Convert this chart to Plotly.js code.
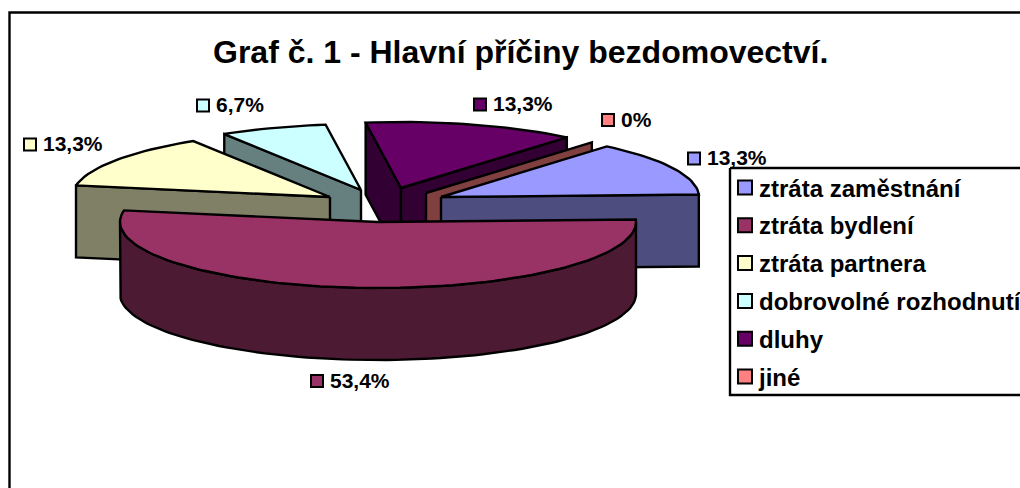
<!DOCTYPE html>
<html><head><meta charset="utf-8">
<script src="https://cdn.plot.ly/plotly-3.0.1.min.js"></script>
<style>html,body{margin:0;padding:0;background:#fff;overflow:hidden}#chart{width:1020px;height:488px}</style>
</head><body><div id="chart"></div>
<script>
// Data
const categories = ['ztráta zaměstnání','ztráta bydlení','ztráta partnera','dobrovolné rozhodnutí','dluhy','jiné'];
const shares = [13.3,53.4,13.3,6.7,13.3,0];
const valueLabels = ['13,3%','53,4%','13,3%','6,7%','13,3%','0%'];
const titleText = 'Graf č. 1 - Hlavní příčiny bezdomovectví.';

// Styles
const topColors = ['#9999ff','#993366','#ffffcc','#ccffff','#660066','#ff8080'];
const sideColors = ['#4d4d80','#4d1a33','#808066','#668080','#330033','#804040'];
const FONT = '"Liberation Sans", Arial, sans-serif';
const INK = '#000';
const LW = 2.4;

// Projection of the tilted pie, in pixel-like axis units
const startDeg = 40, rx = 258, ry = 66, depth = 72;
const explodeAt = [[441,197],[378,222],[330,197],[361,190],[401,188],[426,193]];
const labelAt = [[694,158.5],[317,381],[30,144.5],[203,105.5],[480,104.5],[608,120]];
const legendBox = {x0:730,x1:1040,y0:168,y1:395,first:187.5,step:37.8,sw:745,tx:759};

const rad = d => d*Math.PI/180;
const rimPoint = (c,deg,down=0) => [c[0]+rx*Math.sin(rad(deg)), c[1]-ry*Math.cos(rad(deg))+down];
const arc = (c,a,b,down=0) => {
  const n = Math.max(2,Math.ceil(Math.abs(b-a)/2)), out=[];
  for(let i=0;i<=n;i++) out.push(rimPoint(c,a+(b-a)*i/n,down));
  return out;
};
let acc = startDeg;
const spans = shares.map(v => { const s=[acc,acc+v*3.6]; acc=s[1]; return s; });

const polys = [];
const poly = (pts,color,name) => polys.push({
  type:'scatter',mode:'lines',x:[...pts.map(p=>p[0]),pts[0][0]],y:[...pts.map(p=>p[1]),pts[0][1]],
  fill:'toself',fillcolor:color,line:{color:INK,width:LW,shape:'linear'},name,hoverinfo:'name',showlegend:false
});
// A radial cut face: from centre to rim at angle deg, extruded down
const cutFace = (i,deg) => {
  const c=explodeAt[i], r=rimPoint(c,deg);
  poly([c,r,[r[0],r[1]+depth],[c[0],c[1]+depth]],sideColors[i],categories[i]);
};
const topFace = i => poly([explodeAt[i],...arc(explodeAt[i],spans[i][0],spans[i][1])],topColors[i],categories[i]);

// back to front
cutFace(3,spans[3][0]); topFace(3);               // dobrovolné
cutFace(4,spans[4][0]); cutFace(4,spans[4][1]); topFace(4); // dluhy
cutFace(5,spans[5][0]);                            // jiné
cutFace(0,spans[0][1]); topFace(0);               // zaměstnání
cutFace(2,spans[2][0]); topFace(2);               // partnera
{ // bydlení: the rim wall runs between the left and right silhouette points of the ellipse
  const c=explodeAt[1], a=arc(c,90,270), b=arc(c,90,270,depth).reverse();
  poly([...a,...b],sideColors[1],categories[1]);
  topFace(1);
}

// Data labels with key swatches
const labelKeys = {
  type:'scatter',mode:'markers',x:labelAt.map(p=>p[0]),y:labelAt.map(p=>p[1]),
  marker:{symbol:'square',size:12,color:topColors,line:{color:INK,width:2}},
  hoverinfo:'skip',showlegend:false
};
const labelTexts = {
  type:'scatter',mode:'text',x:labelAt.map(p=>p[0]+13),y:labelAt.map(p=>p[1]+1.5),
  text:valueLabels,textposition:'middle right',
  textfont:{family:FONT,size:21,color:INK,weight:700},
  hoverinfo:'skip',showlegend:false
};
// Legend frame (after the labels, so that it overlaps the nearest one), keys and texts
const b = legendBox;
const legendFrame = {
  type:'scatter',mode:'lines',x:[b.x0,b.x1,b.x1,b.x0,b.x0],y:[b.y0,b.y0,b.y1,b.y1,b.y0],
  fill:'toself',fillcolor:'#fff',line:{color:INK,width:LW},hoverinfo:'skip',showlegend:false
};
const legendKeys = {
  type:'scatter',mode:'markers',x:categories.map(()=>b.sw),y:categories.map((_,i)=>b.first+i*b.step),
  marker:{symbol:'square',size:14,color:topColors,line:{color:INK,width:2}},
  hoverinfo:'skip',showlegend:false
};
const legendTexts = {
  type:'scatter',mode:'text',x:categories.map(()=>b.tx),y:categories.map((_,i)=>b.first+3+i*b.step),
  text:categories,textposition:'middle right',
  textfont:{family:FONT,size:24,color:INK,weight:700},
  hoverinfo:'skip',showlegend:false
};

const layout = {
  width:1020,height:488,margin:{l:0,r:0,t:0,b:0},paper_bgcolor:'#fff',plot_bgcolor:'#fff',showlegend:false,
  xaxis:{range:[0,1020],visible:false,fixedrange:true},
  yaxis:{range:[488,0],visible:false,fixedrange:true},
  shapes:[
    {type:'rect',xref:'x',yref:'y',x0:9.5,x1:1060,y0:12.5,y1:520,line:{color:INK,width:LW},layer:'below'}
  ],
  annotations:[{xref:'x',yref:'y',x:520.5,y:52,text:titleText,showarrow:false,xanchor:'center',yanchor:'middle',
    font:{family:FONT,size:32,color:INK,weight:700}}]
};
Plotly.newPlot('chart',[...polys,labelKeys,labelTexts,legendFrame,legendKeys,legendTexts],layout,{displayModeBar:false,staticPlot:true});
</script></body></html>
